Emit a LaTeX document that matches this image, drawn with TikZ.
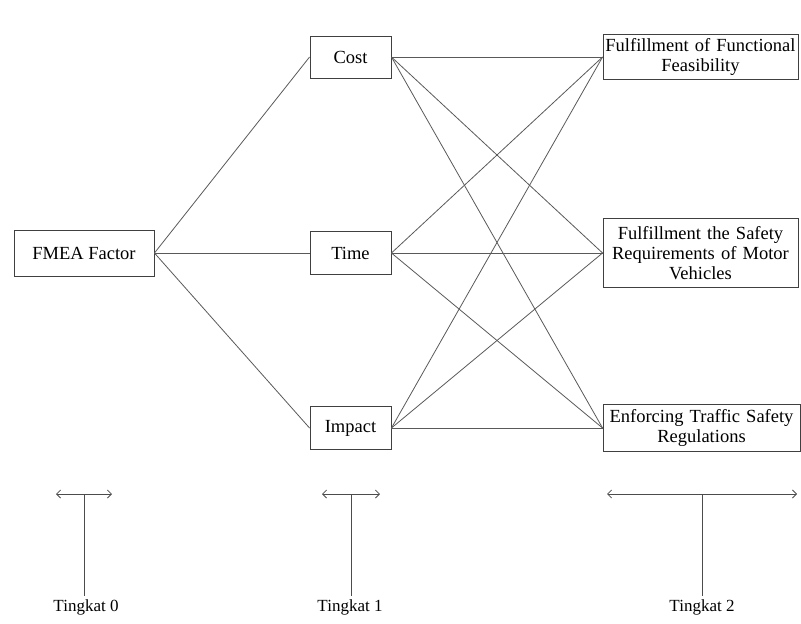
\documentclass[tikz,border=0pt]{standalone}
\usepackage{fontspec}
\setmainfont{Liberation Serif}
\usetikzlibrary{arrows.meta}
\tikzset{
  box/.style={draw=black!75, line width=0.9pt, inner sep=1pt, font=\fontsize{18.5}{20}\selectfont, align=center},
  link/.style={draw=black!65, line width=0.8pt},
  level/.style={draw=black!70, line width=0.8pt},
  lvlarrow/.style={draw=black!70, line width=0.8pt, {Straight Barb[length=4pt,width=8pt]}-{Straight Barb[length=4pt,width=8pt]}},
  lbl/.style={font=\fontsize{17}{18}\selectfont}
}
\begin{document}
\begin{tikzpicture}[x=1pt,y=-1pt]
\useasboundingbox (0,0) rectangle (801,624);
\node[box, minimum width=140pt, minimum height=46pt] (fmea) at (84,253) {FMEA Factor};
\node[box, minimum width=81pt, minimum height=42pt] (cost) at (350.5,57) {Cost};
\node[box, minimum width=81pt, minimum height=43pt] (time) at (350.5,253) {Time};
\node[box, minimum width=81pt, minimum height=43pt] (impact) at (350.5,428) {Impact};
\node[box, minimum width=195pt, minimum height=45pt, text width=193pt] (f1) at (700.5,57) {Fulfillment of Functional\\Feasibility};
\node[box, minimum width=195pt, minimum height=69pt, text width=193pt] (f2) at (700.5,253) {Fulfillment the Safety\\Requirements of Motor\\Vehicles};
\node[box, minimum width=197pt, minimum height=47pt, text width=195pt] (f3) at (701.5,428) {Enforcing Traffic Safety\\Regulations};

\draw[link] (fmea.east) -- (cost.west);
\draw[link] (fmea.east) -- (time.west);
\draw[link] (fmea.east) -- (impact.west);
\foreach \a in {cost,time,impact}{
  \foreach \b in {f1,f2,f3}{
    \draw[link] (\a.east) -- (\b.west);
  }
}

% level indicators
\coordinate (a0l) at (56,494); \coordinate (a0r) at (112,494); \coordinate (a0c) at (84,494);
\coordinate (a1l) at (322,494); \coordinate (a1r) at (380,494); \coordinate (a1c) at (351,494);
\coordinate (a2l) at (607,494); \coordinate (a2r) at (797,494); \coordinate (a2c) at (702,494);
\draw[lvlarrow] (a0l) -- (a0r);
\draw[lvlarrow] (a1l) -- (a1r);
\draw[lvlarrow] (a2l) -- (a2r);
\node[lbl] (t0) at (86,607) {Tingkat 0};
\node[lbl] (t1) at (350,607) {Tingkat 1};
\node[lbl] (t2) at (702,607) {Tingkat 2};
\draw[level] (a0c) -- (a0c |- t0.north);
\draw[level] (a1c) -- (a1c |- t1.north);
\draw[level] (a2c) -- (a2c |- t2.north);
\end{tikzpicture}
\end{document}
